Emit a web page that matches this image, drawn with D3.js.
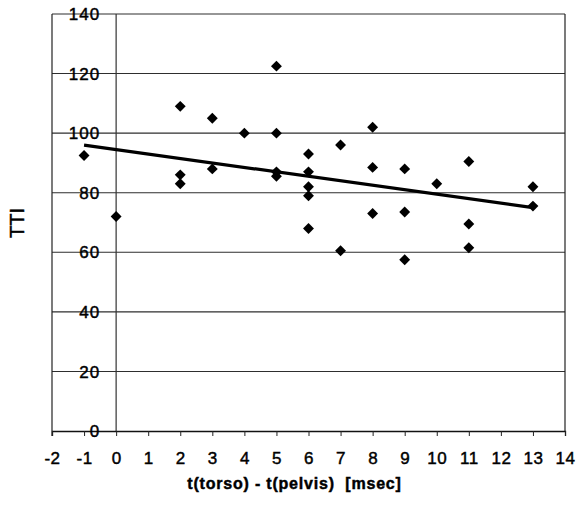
<!DOCTYPE html>
<html>
<head>
<meta charset="utf-8">
<script src="https://cdn.jsdelivr.net/npm/d3@7"></script>
<style>
  html, body { margin: 0; padding: 0; background: #fff; }
  svg { display: block; font-family: Arial, "Liberation Sans", sans-serif; }
  .lbl { stroke: #000; stroke-width: 0.45px; paint-order: stroke; }
</style>
</head>
<body>
<svg id="chart" width="579" height="509"></svg>
<script>
// Time offset between torso and pelvis (msec) vs. TTI
const offsets = [-1, 0, 2, 2, 2, 3, 3, 4, 5, 5, 5, 5, 6, 6, 6, 6, 6, 7, 7, 8, 8, 8, 9, 9, 9, 10, 11, 11, 11, 13, 13];
const ttiValues = [92.5, 72, 109, 86, 83, 105, 88, 100, 122.5, 100, 87, 85.5, 93, 87, 82, 79, 68, 96, 60.5, 102, 88.5, 73, 88, 73.5, 57.5, 83, 90.5, 69.5, 61.5, 82, 75.5];

// Linear trend line end points
const trendX = [-1, 13];
const trendY = [96, 75];

const xTicks = d3.range(-2, 15, 1);
const yTicks = [0, 20, 40, 60, 80, 100, 120, 140];

const xTitle = "t(torso) - t(pelvis)  [msec]";
const yTitle = "TTI";

const svg = d3.select("#chart");
const plotLeft = 52, plotRight = 565, plotTop = 14, plotBottom = 431;

const x = d3.scaleLinear().domain([-2, 14]).range([plotLeft, plotRight]);
const y = d3.scaleLinear().domain([0, 140]).range([plotBottom, plotTop]);

// horizontal gridlines
svg.append("g")
  .selectAll("line")
  .data(yTicks.filter(d => d > 0))
  .join("line")
  .attr("x1", plotLeft).attr("x2", plotRight)
  .attr("y1", d => y(d)).attr("y2", d => y(d))
  .attr("stroke", "#2e2e2e").attr("stroke-width", 1.1);

// plot frame sides
svg.append("line").attr("x1", plotLeft).attr("x2", plotLeft).attr("y1", plotTop).attr("y2", plotBottom + 5)
  .attr("stroke", "#222").attr("stroke-width", 1.2);
svg.append("line").attr("x1", plotRight).attr("x2", plotRight).attr("y1", plotTop).attr("y2", plotBottom)
  .attr("stroke", "#222").attr("stroke-width", 1.2);

// vertical axis crossing at x = 0
svg.append("line").attr("x1", x(0)).attr("x2", x(0)).attr("y1", plotTop).attr("y2", plotBottom)
  .attr("stroke", "#333").attr("stroke-width", 1.2);

// x axis
const xAxis = d3.axisBottom(x)
  .tickValues(xTicks)
  .tickSize(5)
  .tickPadding(16)
  .tickFormat(d => String(d));
const gx = svg.append("g").attr("transform", `translate(0,${y(0)})`).call(xAxis);
gx.attr("font-size", null).attr("font-family", null);
gx.select(".domain").attr("stroke", "#111").attr("stroke-width", 1.3);
gx.selectAll(".tick line").attr("stroke", "#222");
gx.selectAll(".tick text")
  .attr("class", "lbl")
  .attr("fill", "#000")
  .style("font-size", "17px")
  .style("font-family", "Arial, 'Liberation Sans', sans-serif")
  .style("letter-spacing", "0.5px");

// y tick labels next to the vertical axis
svg.append("g")
  .selectAll("text")
  .data(yTicks)
  .join("text")
  .attr("class", "lbl")
  .attr("x", x(0) - 16)
  .attr("y", d => y(d))
  .attr("dy", "0.36em")
  .attr("text-anchor", "end")
  .attr("fill", "#000")
  .style("font-size", "17px")
  .style("letter-spacing", "1px")
  .text(d => d);

// trend line
svg.append("line")
  .attr("x1", x(trendX[0])).attr("y1", y(trendY[0]))
  .attr("x2", x(trendX[1])).attr("y2", y(trendY[1]))
  .attr("stroke", "#000").attr("stroke-width", 3.2);

// diamond markers
const diamond = d3.symbol().type(d3.symbolDiamond2).size(76);
svg.append("g")
  .selectAll("path")
  .data(offsets.map((d, i) => [d, ttiValues[i]]))
  .join("path")
  .attr("d", diamond)
  .attr("transform", d => `translate(${x(d[0])},${y(d[1])})`)
  .attr("fill", "#000");

// axis titles
svg.append("text")
  .attr("class", "lbl")
  .attr("x", (plotLeft + plotRight) / 2 - 14)
  .attr("y", 489)
  .attr("text-anchor", "middle")
  .attr("fill", "#000")
  .style("font-size", "16px")
  .style("font-weight", "bold")
  .style("letter-spacing", "0.8px")
  .style("white-space", "pre")
  .text(xTitle);

svg.append("text")
  .attr("class", "lbl")
  .attr("transform", `translate(24,223) rotate(-90)`)
  .attr("text-anchor", "middle")
  .attr("fill", "#000")
  .style("font-size", "20px")
  .text(yTitle);
</script>
</body>
</html>
